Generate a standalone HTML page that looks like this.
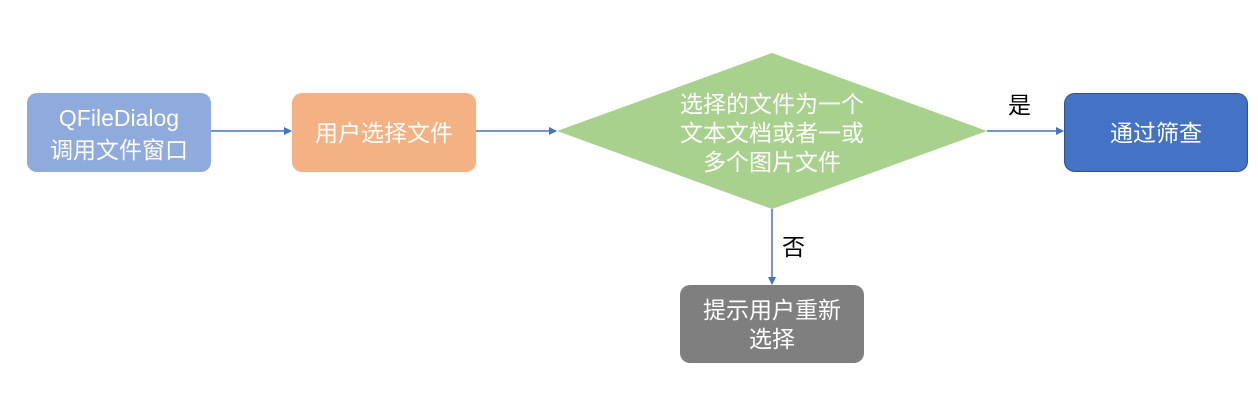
<!DOCTYPE html>
<html><head><meta charset="utf-8"><style>
html,body{margin:0;padding:0;background:#fff;width:1258px;height:404px;overflow:hidden}
text{font-family:"Liberation Sans","Noto Sans CJK SC",sans-serif;font-size:23px}
</style></head><body>
<svg width="1258" height="404" xmlns="http://www.w3.org/2000/svg">
<defs><marker id="a" markerWidth="8" markerHeight="8" refX="7" refY="4" orient="auto" markerUnits="userSpaceOnUse"><path d="M0,0 L8,4 L0,8 z" fill="#4472c4"/></marker></defs>
<rect x="27" y="93" width="184" height="79" rx="10" fill="#8faadc"/>
<text x="119" y="126" fill="#fff" text-anchor="middle">QFileDialog</text>
<text x="119" y="158" fill="#fff" text-anchor="middle">调用文件窗口</text>
<rect x="292" y="93" width="184" height="79" rx="10" fill="#f4b183"/>
<text x="384" y="141" fill="#fff" text-anchor="middle">用户选择文件</text>
<polygon points="557,131 772,53 987,131 772,209" fill="#a9d18e"/>
<text x="772" y="112" fill="#fff" text-anchor="middle">选择的文件为一个</text>
<text x="772" y="141" fill="#fff" text-anchor="middle">文本文档或者一或</text>
<text x="772" y="170" fill="#fff" text-anchor="middle">多个图片文件</text>
<rect x="1064.5" y="93.5" width="183" height="78" rx="10" fill="#4472c4" stroke="#2f528f" stroke-width="1"/>
<text x="1156" y="141" fill="#fff" text-anchor="middle">通过筛查</text>
<rect x="680" y="285" width="184" height="78" rx="10" fill="#7f7f7f"/>
<text x="772" y="318" fill="#fff" text-anchor="middle">提示用户重新</text>
<text x="772" y="347" fill="#fff" text-anchor="middle">选择</text>
<line x1="211" y1="131" x2="291" y2="131" stroke="#4472c4" stroke-width="1.5" marker-end="url(#a)"/>
<line x1="476" y1="131" x2="556" y2="131" stroke="#4472c4" stroke-width="1.5" marker-end="url(#a)"/>
<line x1="987" y1="131" x2="1063" y2="131" stroke="#4472c4" stroke-width="1.5" marker-end="url(#a)"/>
<line x1="772" y1="209" x2="772" y2="284" stroke="#4472c4" stroke-width="1.5" marker-end="url(#a)"/>
<text x="1008" y="113" fill="#000">是</text>
<text x="782" y="255" fill="#000">否</text>
</svg>
</body></html>
